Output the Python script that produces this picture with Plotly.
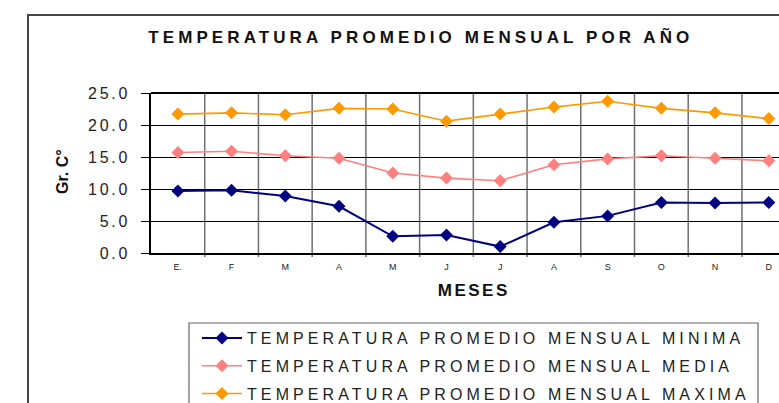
import plotly.graph_objects as go

meses = ["E.", "F", "M", "A", "M", "J", "J", "A", "S", "O", "N", "D"]
minima = [9.7, 9.8, 8.9, 7.3, 2.6, 2.8, 1.0, 4.8, 5.8, 7.9, 7.8, 7.9]
media = [15.7, 15.9, 15.2, 14.8, 12.5, 11.7, 11.3, 13.8, 14.7, 15.2, 14.8, 14.4]
maxima = [21.7, 21.9, 21.6, 22.6, 22.5, 20.6, 21.7, 22.8, 23.7, 22.6, 21.9, 21.0]
y_ticks = [0, 5, 10, 15, 20, 25]
y_labels = ["0.0", "5.0", "10.0", "15.0", "20.0", "25.0"]

names = ["TEMPERATURA PROMEDIO MENSUAL MINIMA",
         "TEMPERATURA PROMEDIO MENSUAL MEDIA",
         "TEMPERATURA PROMEDIO MENSUAL MAXIMA"]
colors = ["#000080", "#FF8080", "#FF9900"]
widths = [2, 1.6, 1.6]
series = [minima, media, maxima]

x_idx = list(range(len(meses)))

# plot area geometry (pixels)
L, R, T, B = 151, 779, 93, 253
PW, PH = R - L, B - T


def px(x):
    return (x - L) / PW


def py(y):
    return (B - y) / PH


fig = go.Figure()
for k, (nm, col, w, vals) in enumerate(zip(names, colors, widths, series)):
    fig.add_trace(go.Scatter(
        x=x_idx, y=vals, name=nm, mode="lines+markers", legendgroup=f"g{k}",
        line=dict(color=col, width=w),
        marker=dict(symbol="diamond", size=10, color=col),
    ))

font_main = "Liberation Sans, Arial, sans-serif"

fig.update_layout(
    width=779, height=403,
    margin=dict(l=L, r=779 - R, t=T, b=403 - B, autoexpand=False),
    paper_bgcolor="white", plot_bgcolor="white",
    font=dict(family=font_main, color="#222222"),
    showlegend=True,
    legend=dict(
        x=px(197), y=py(321), xanchor="left", yanchor="top",
        orientation="v", traceorder="grouped", tracegroupgap=4,
        borderwidth=0, bgcolor="rgba(0,0,0,0)",
        font=dict(size=16, family=font_main, color="#222222"),
        itemwidth=40,
    ),
    xaxis=dict(
        type="linear", range=[-0.5, 11.19],
        tickmode="array", tickvals=x_idx, ticktext=meses,
        showgrid=False, zeroline=False,
        showline=True, linecolor="black", linewidth=1.5,
        ticks="", ticklabelstandoff=4, tickfont=dict(size=9, color="#222222"),
    ),
    yaxis=dict(
        range=[0, 25], tickvals=y_ticks, ticktext=y_labels,
        showgrid=True, gridcolor="black", gridwidth=1.2,
        zeroline=False, showline=True, linecolor="black", linewidth=1.5,
        ticks="outside", ticklen=8, tickcolor="black", tickwidth=1.2,
        ticklabelstandoff=8,
        tickfont=dict(size=16, color="#222222"),
    ),
    shapes=[
        # vertical category boundary gridlines
        *[dict(type="line", xref="x", yref="paper", x0=i + 0.5, x1=i + 0.5,
               y0=py(257), y1=1, line=dict(color="#707070", width=1.5), layer="below")
          for i in range(len(meses))],
        # top border at 25
        dict(type="line", xref="paper", yref="paper", x0=0, x1=1, y0=1, y1=1,
             line=dict(color="black", width=2)),
        # outer chart border
        dict(type="rect", xref="paper", yref="paper", x0=px(28), x1=px(800),
             y0=py(420), y1=py(15), line=dict(color="#444444", width=2)),
        # legend box
        dict(type="rect", xref="paper", yref="paper", x0=px(189), x1=px(758),
             y0=py(420), y1=py(323), line=dict(color="#666666", width=1.2)),
    ],
    annotations=[
        dict(text="<b>TEMPERATURA PROMEDIO MENSUAL POR AÑO</b>", xref="paper", yref="paper",
             x=px(421), y=py(36.5), xanchor="center", yanchor="middle",
             showarrow=False, font=dict(size=17, family=font_main, color="#111111")),
        dict(text="<b>Gr. C°</b>", xref="paper", yref="paper",
             x=px(62), y=py(172), xanchor="center", yanchor="middle",
             textangle=-90, showarrow=False, font=dict(size=16, color="#111111")),
        dict(text="<b>MESES</b>", xref="paper", yref="paper",
             x=px(474), y=py(290), xanchor="center", yanchor="middle",
             showarrow=False, font=dict(size=17, color="#111111")),
    ],
)

post_js = """
document.body.style.margin = '0';
document.body.style.padding = '0';
var gd = document.getElementById('{plot_id}');
function sp(sel, v) {
  gd.querySelectorAll(sel).forEach(function(e) {
    e.setAttribute('letter-spacing', v);
    e.style.letterSpacing = v;
  });
}
sp('.legendtext', '4.1px');
sp('.ytick text', '2.7px');
sp('.annotation[data-index="0"] .annotation-text', '4.1px');
sp('.annotation[data-index="2"] .annotation-text', '2.5px');
gd.querySelectorAll('.legend, .legend *').forEach(function(e) {
  e.removeAttribute('clip-path');
});
"""

fig.write_html("out.html", post_script=post_js, config={"displayModeBar": False})
